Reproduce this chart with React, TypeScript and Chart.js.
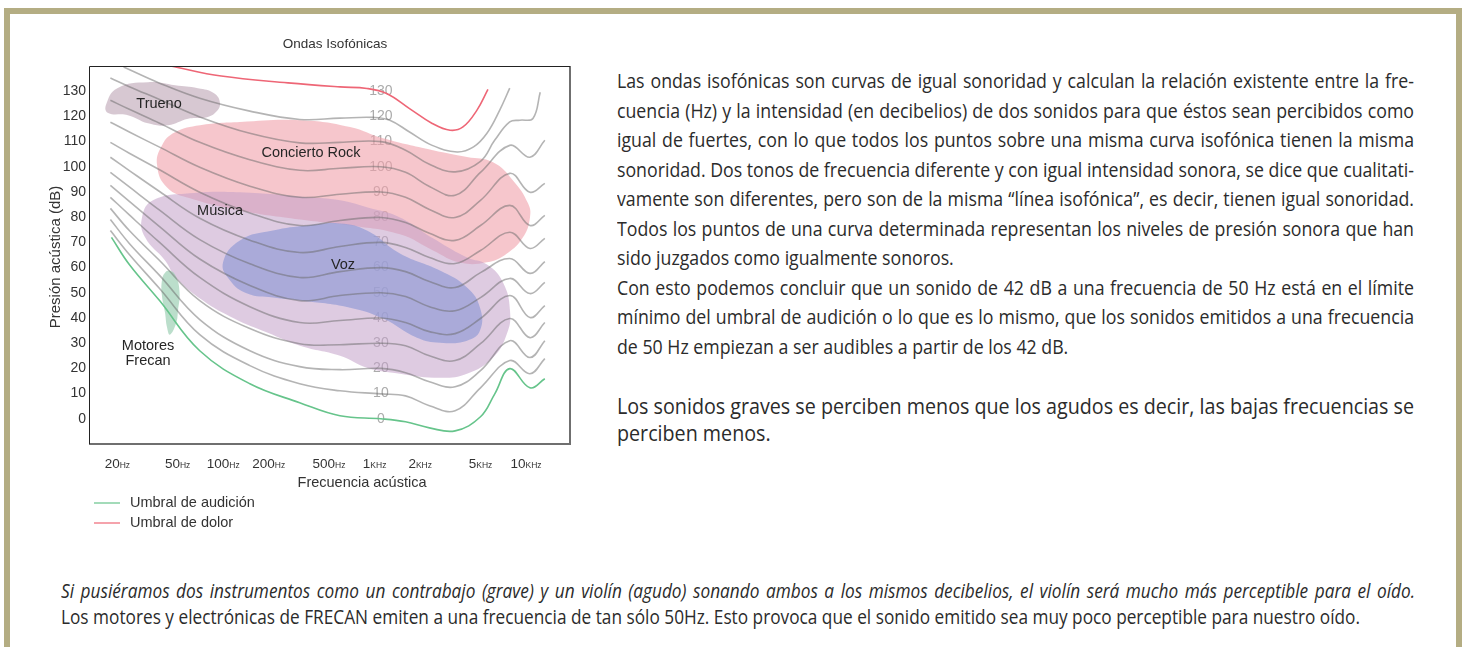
import React, { useEffect, useLayoutEffect, useRef } from "react";
import { Chart, registerables } from "chart.js";

Chart.register(...registerables);

const CHART_FONT = '"Liberation Sans", Arial, Helvetica, sans-serif';
const TEXT_FONT = '"Open Sans", "Noto Sans", sans-serif';

// ---------- texts ----------
const CHART_TITLE = "Ondas Isofónicas";
const X_TITLE = "Frecuencia acústica";
const Y_TITLE = "Presión acústica (dB)";

// ---------- axes ----------
const X_MIN_HZ = 13;
const X_MAX_HZ = 19500;
const Y_MIN_DB = -10;
const Y_MAX_DB = 140;
const Y_TICKS = [0, 10, 20, 30, 40, 50, 60, 70, 80, 90, 100, 110, 120, 130];
const X_TICK_HZ = [20, 50, 100, 200, 500, 1000, 2000, 5000, 10000];
const X_TICK_NUM = ["20", "50", "100", "200", "500", "1", "2", "5", "10"];
const X_TICK_UNIT = ["Hz", "Hz", "Hz", "Hz", "Hz", "KHz", "KHz", "KHz", "KHz"];

const LEVEL_LABELS = [0, 10, 20, 30, 40, 50, 60, 70, 80, 90, 100, 110, 120, 130];
const LEVEL_LABEL_HZ = 1100;

// ---------- curves (Hz / dB) ----------
const THRESHOLD_LABEL = "Umbral de audición";
const THRESHOLD_HZ = [18.3, 24, 38, 70, 150, 320, 590, 1100, 1600, 2300, 3400, 5000, 6200, 7800, 10600, 13300];
const THRESHOLD_DB = [72.0, 61.2, 46.9, 27.0, 13.9, 6.4, 1.2, 0, -1.2, -3.6, -4.8, 0.8, 9.8, 19.9, 12.3, 15.9];

const CONTOUR_HZ = [18, 24, 38, 70, 150, 320, 590, 1100, 1600, 2300, 3400, 5000, 7800, 10600, 13300];
const PHON_10_DB = [74.7, 65.2, 51.7, 33.4, 21.1, 13.9, 11.1, 9.9, 9.1, 5.2, 3.2, 12.3, 23.1, 17.9, 23.9];
const PHON_20_DB = [79.1, 69.6, 56.9, 39.4, 27.0, 20.7, 19.5, 20.0, 18.3, 14.7, 12.7, 19.1, 31.0, 24.3, 31.0];
const PHON_30_DB = [83.5, 74.7, 62.8, 46.9, 35.8, 29.8, 29.4, 30.0, 29.0, 25.0, 23.1, 29.8, 39.8, 32.2, 38.2];
const PHON_40_DB = [87.9, 80.9, 70.0, 56.1, 44.5, 38.2, 39.0, 40.0, 38.2, 34.6, 33.8, 39.8, 48.9, 40.2, 44.9];
const PHON_50_DB = [92.6, 86.3, 76.3, 63.4, 52.9, 46.9, 48.9, 50.0, 48.5, 44.5, 42.9, 48.1, 55.7, 49.7, 54.1];
const PHON_60_DB = [97.8, 92.0, 82.8, 71.1, 61.5, 56.1, 58.4, 60.0, 58.4, 54.5, 52.1, 58.0, 63.6, 57.7, 62.4];
const PHON_70_DB = [103.8, 98.5, 90.2, 79.6, 70.9, 66.0, 68.4, 70.0, 68.0, 64.0, 61.6, 66.8, 74.0, 67.6, 71.6];
const PHON_80_DB = [109.7, 105.4, 98.8, 89.9, 81.7, 76.7, 78.7, 79.9, 77.9, 73.6, 70.8, 76.7, 84.7, 76.7, 80.7];
const PHON_90_DB = [117.7, 113.8, 107.8, 99.8, 92.3, 87.9, 89.1, 90.0, 87.9, 83.1, 79.9, 86.7, 97.4, 89.9, 93.4];
const PHON_100_DB = [126.4, 122.8, 117.3, 109.7, 102.8, 98.6, 99.4, 100.0, 97.8, 92.2, 88.7, 97.8, 108.5, 103.8, 110.5];
const PHON_110_HZ = [18, 24, 38, 70, 150, 320, 590, 1100, 1600, 2300, 3400, 5000, 6200, 7800, 9100, 11100, 12400];
const PHON_110_DB = [135.2, 131.8, 126.7, 119.8, 113.3, 109.5, 109.7, 110.0, 106.6, 101.0, 98.0, 102.2, 110.5, 117.8, 118.5, 119.2, 129.6];
const PHON_120_HZ = [22, 38, 70, 150, 320, 590, 980, 1260, 1700, 2400, 3500, 4500, 5500, 6700, 7800];
const PHON_120_DB = [139.6, 133.2, 127.2, 122.1, 118.8, 119.3, 119.6, 118.5, 113.8, 108.5, 105.9, 107.9, 113.2, 122.5, 131.2];

const PAIN_LABEL = "Umbral de dolor";
const PAIN_HZ = [45, 97, 268, 590, 890, 1200, 1700, 2400, 3150, 3830, 4740, 5600];
const PAIN_DB = [140.0, 136.0, 133.3, 131.7, 131.1, 129.1, 123.1, 117.2, 114.5, 115.8, 122.5, 130.7];

// ---------- regions (closed outlines, Hz / dB) ----------
const TRUENO_HZ = [16.8, 20, 31.9, 48.1, 68.2, 87.0, 95.3, 89.6, 78.2, 58.6, 43.2, 31.9, 23.5, 17.4];
const TRUENO_DB = [124.4, 131.2, 133.6, 132.4, 131.2, 129.2, 125.2, 121.7, 119.7, 119.1, 116.5, 117.3, 120.5, 121.3];
const ROCK_HZ = [36.6, 39.4, 48.1, 70.3, 129, 322, 688, 1136, 2429, 4073, 6048, 8196, 10296, 10612, 9541, 7480, 5520, 3661, 2429, 1470, 688, 322, 129, 60.4, 42.6];
const ROCK_DB = [100.6, 108.5, 113.7, 116.5, 117.8, 118.5, 115.8, 111.3, 106.6, 103.9, 101.8, 94.6, 85.5, 79.9, 72.0, 65.6, 62.1, 62.0, 66.8, 73.2, 76.7, 79.1, 82.7, 87.5, 91.8];
const MUSICA_HZ = [29.1, 34.4, 60.4, 129, 358, 591, 890, 1470, 2429, 4073, 5520, 7041, 7831, 7480, 6048, 4073, 2701, 1470, 890, 591, 322, 195, 118, 73.5, 48.8, 41.3, 30.5];
const MUSICA_DB = [79.9, 86.7, 89.5, 89.9, 87.9, 86.7, 83.9, 79.9, 71.6, 64.0, 61.2, 54.1, 42.9, 33.8, 24.3, 17.9, 16.3, 17.9, 20.3, 25.0, 29.0, 34.2, 39.8, 46.9, 56.1, 62.8, 72.0];
const VOZ_HZ = [99.7, 129, 213, 358, 591, 890, 1470, 2701, 4073, 4963, 4963, 4073, 2701, 1904, 1136, 688, 322, 213, 144, 111];
const VOZ_DB = [62.0, 70.8, 74.7, 76.7, 77.5, 74.7, 65.6, 58.8, 52.1, 44.1, 35.0, 31.0, 30.2, 32.2, 39.8, 44.1, 46.9, 48.1, 49.7, 54.9];
const MOTORES_HZ = [44.5, 48.8, 51.5, 50.3, 48.8, 44.5, 42.6, 41.3, 39.4, 39.4, 41.3];
const MOTORES_DB = [58.8, 56.5, 50.1, 42.9, 37.8, 33.4, 36.2, 42.1, 48.9, 54.9, 58.0];

const REGION_LABELS = ["Trueno", "Concierto Rock", "Música", "Voz", "Motores", "Frecan"];
const REGION_LABEL_HZ = [37.7, 380, 95.3, 618, 31.9, 31.9];
const REGION_LABEL_DB = [124.8, 105.6, 82.3, 61.2, 29.0, 23.1];

// ---------- page texts ----------
const P1_LINES = [
  "Las ondas isofónicas son curvas de igual sonoridad y calculan la relación existente entre la fre-",
  "cuencia (Hz) y la intensidad (en decibelios) de dos sonidos para que éstos sean percibidos como",
  "igual de fuertes, con lo que todos los puntos sobre una misma curva isofónica tienen la misma",
  "sonoridad. Dos tonos de frecuencia diferente y con igual intensidad sonora, se dice que cualitati-",
  "vamente son diferentes, pero son de la misma “línea isofónica”, es decir, tienen igual sonoridad.",
  "Todos los puntos de una curva determinada representan los niveles de presión sonora que han",
  "sido juzgados como igualmente sonoros.",
  "Con esto podemos concluir que un sonido de 42 dB a una frecuencia de 50 Hz está en el límite",
  "mínimo del umbral de audición o lo que es lo mismo, que los sonidos emitidos a una frecuencia",
  "de 50 Hz empiezan a ser audibles a partir de los 42 dB.",
];
const P1_JUSTIFY = [true, true, true, true, true, true, false, true, true, false];
const P2_LINES = [
  "Los sonidos graves se perciben menos que los agudos es decir, las bajas frecuencias se",
  "perciben menos.",
];
const P2_JUSTIFY = [true, false];
const NOTE_LINES = [
  "Si pusiéramos dos instrumentos como un contrabajo (grave) y un violín (agudo) sonando ambos a los mismos decibelios, el violín será mucho más perceptible para el oído.",
  "Los motores y electrónicas de FRECAN emiten a una frecuencia de tan sólo 50Hz. Esto provoca que el sonido emitido sea muy poco perceptible para nuestro oído.",
];
const NOTE_WIDTHS = [1354, 1299];
const NOTE_ITALIC = [true, false];

// ---------- helpers ----------
const toPoints = (xs: number[], ys: number[]) => xs.map((x, i) => ({ x, y: ys[i] }));
const closedPoints = (xs: number[], ys: number[]) => {
  const p = toPoints(xs, ys);
  return [p[p.length - 1], ...p, p[0], p[1]];
};

const GRAY = "rgba(105,105,105,0.5)";
const GREEN = "#66c48b";
const RED = "#ee6676";

function curve(label: string, xs: number[], ys: number[], color: string, order: number, width = 1.6) {
  return {
    label,
    data: toPoints(xs, ys),
    borderColor: color,
    backgroundColor: color,
    borderWidth: width,
    pointRadius: 0,
    fill: false,
    tension: 0.4,
    order,
  };
}

function region(label: string, xs: number[], ys: number[], color: string, order: number) {
  return {
    label,
    data: closedPoints(xs, ys),
    borderColor: "rgba(0,0,0,0)",
    backgroundColor: color,
    borderWidth: 0,
    pointRadius: 0,
    fill: "shape",
    tension: 0.45,
    order,
  };
}

const decorPlugin = {
  id: "decor",
  beforeDatasetsDraw(chart: any) {
    const { ctx, scales } = chart;
    const x = scales.x;
    const y = scales.y;
    ctx.save();
    ctx.fillStyle = "#ababab";
    ctx.font = `14px ${CHART_FONT}`;
    ctx.textAlign = "center";
    ctx.textBaseline = "middle";
    LEVEL_LABELS.forEach((v) => {
      ctx.fillText(String(v), x.getPixelForValue(LEVEL_LABEL_HZ), y.getPixelForValue(v));
    });
    ctx.restore();
  },
  afterDatasetsDraw(chart: any) {
    const { ctx, chartArea, scales } = chart;
    const { left, right, top, bottom } = chartArea;
    const x = scales.x;
    const y = scales.y;
    ctx.save();

    // plot frame
    ctx.strokeStyle = "#6f6f6f";
    ctx.lineWidth = 2;
    ctx.beginPath();
    ctx.moveTo(right, top);
    ctx.lineTo(right, bottom);
    ctx.lineTo(left, bottom);
    ctx.stroke();
    ctx.strokeStyle = "#222";
    ctx.lineWidth = 1;
    ctx.beginPath();
    ctx.moveTo(left + 0.5, bottom);
    ctx.lineTo(left + 0.5, top + 0.5);
    ctx.lineTo(right, top + 0.5);
    ctx.stroke();

    // region labels
    ctx.fillStyle = "#262626";
    ctx.font = `14.5px ${CHART_FONT}`;
    ctx.textAlign = "center";
    ctx.textBaseline = "middle";
    REGION_LABELS.forEach((t, i) => {
      ctx.fillText(t, x.getPixelForValue(REGION_LABEL_HZ[i]), y.getPixelForValue(REGION_LABEL_DB[i]));
    });

    // x tick labels (number + small unit)
    ctx.fillStyle = "#333";
    ctx.textAlign = "left";
    ctx.textBaseline = "alphabetic";
    const numFont = `13.5px ${CHART_FONT}`;
    const unitFont = `8.5px ${CHART_FONT}`;
    X_TICK_HZ.forEach((hz, i) => {
      const px = x.getPixelForValue(hz);
      ctx.font = numFont;
      const w1 = ctx.measureText(X_TICK_NUM[i]).width;
      ctx.font = unitFont;
      const w2 = ctx.measureText(X_TICK_UNIT[i]).width;
      const start = px - (w1 + w2) / 2;
      ctx.font = numFont;
      ctx.fillText(X_TICK_NUM[i], start, bottom + 24);
      ctx.font = unitFont;
      ctx.fillText(X_TICK_UNIT[i], start + w1, bottom + 24);
    });

    // axis titles
    ctx.fillStyle = "#333";
    ctx.font = `14.5px ${CHART_FONT}`;
    ctx.textAlign = "center";
    ctx.fillText(X_TITLE, left + 273, bottom + 43);
    ctx.save();
    ctx.translate(left - 33, (top + bottom) / 2 + 2);
    ctx.rotate(-Math.PI / 2);
    ctx.font = `15px ${CHART_FONT}`;
    ctx.textBaseline = "middle";
    ctx.fillText(Y_TITLE, 0, 0);
    ctx.restore();

    // chart title
    ctx.font = `13.5px ${CHART_FONT}`;
    ctx.textBaseline = "middle";
    ctx.fillText(CHART_TITLE, left + 246, top - 22);

    // legend
    const items = chart.data.datasets.filter((d: any) => d.showInLegend);
    items.forEach((d: any, i: number) => {
      const ly = bottom + 59 + i * 20;
      ctx.strokeStyle = d.borderColor;
      ctx.lineWidth = 1.2;
      ctx.beginPath();
      ctx.moveTo(left + 5, ly);
      ctx.lineTo(left + 31, ly);
      ctx.stroke();
      ctx.fillStyle = "#333";
      ctx.font = `14.5px ${CHART_FONT}`;
      ctx.textAlign = "left";
      ctx.textBaseline = "middle";
      ctx.fillText(d.label, left + 41, ly);
    });

    ctx.restore();
  },
};

function IsoChart() {
  const ref = useRef<HTMLCanvasElement | null>(null);
  useEffect(() => {
    if (!ref.current) return;
    const threshold: any = curve(THRESHOLD_LABEL, THRESHOLD_HZ, THRESHOLD_DB, GREEN, 1);
    threshold.showInLegend = true;
    const pain: any = curve(PAIN_LABEL, PAIN_HZ, PAIN_DB, RED, 1);
    pain.showInLegend = true;
    const datasets: any[] = [
      threshold,
      pain,
      curve("10 fon", CONTOUR_HZ, PHON_10_DB, GRAY, 2),
      curve("20 fon", CONTOUR_HZ, PHON_20_DB, GRAY, 2),
      curve("30 fon", CONTOUR_HZ, PHON_30_DB, GRAY, 2),
      curve("40 fon", CONTOUR_HZ, PHON_40_DB, GRAY, 2),
      curve("50 fon", CONTOUR_HZ, PHON_50_DB, GRAY, 2),
      curve("60 fon", CONTOUR_HZ, PHON_60_DB, GRAY, 2),
      curve("70 fon", CONTOUR_HZ, PHON_70_DB, GRAY, 2),
      curve("80 fon", CONTOUR_HZ, PHON_80_DB, GRAY, 2),
      curve("90 fon", CONTOUR_HZ, PHON_90_DB, GRAY, 2),
      curve("100 fon", CONTOUR_HZ, PHON_100_DB, GRAY, 2),
      curve("110 fon", PHON_110_HZ, PHON_110_DB, GRAY, 2),
      curve("120 fon", PHON_120_HZ, PHON_120_DB, GRAY, 2),
      region("Motores Frecan", MOTORES_HZ, MOTORES_DB, "rgba(150,205,175,0.65)", 10),
      region("Trueno", TRUENO_HZ, TRUENO_DB, "rgba(175,145,165,0.5)", 11),
      region("Voz", VOZ_HZ, VOZ_DB, "rgba(150,158,215,0.72)", 12),
      region("Música", MUSICA_HZ, MUSICA_DB, "rgba(195,160,200,0.55)", 13),
      region("Concierto Rock", ROCK_HZ, ROCK_DB, "rgba(240,160,170,0.6)", 14),
    ];
    const chart = new Chart(ref.current, {
      type: "line",
      data: { datasets },
      options: {
        animation: false,
        responsive: false,
        devicePixelRatio: 1,
        layout: { padding: { top: 36, right: 30, left: 0, bottom: 0 } },
        plugins: {
          legend: { display: false },
          tooltip: { enabled: false },
          title: { display: false },
        },
        scales: {
          x: {
            type: "logarithmic",
            min: X_MIN_HZ,
            max: X_MAX_HZ,
            afterFit: (s: any) => {
              s.height = 96;
            },
            ticks: { display: false },
            grid: { display: false, drawTicks: false },
            border: { display: false },
          },
          y: {
            type: "linear",
            min: Y_MIN_DB,
            max: Y_MAX_DB,
            afterFit: (s: any) => {
              s.width = 59;
            },
            afterBuildTicks: (s: any) => {
              s.ticks = Y_TICKS.map((v) => ({ value: v }));
            },
            ticks: { color: "#333", padding: 3, font: { family: CHART_FONT, size: 14 } },
            grid: { display: false, drawTicks: false },
            border: { display: false },
          },
        },
      } as any,
      plugins: [decorPlugin],
    });
    return () => chart.destroy();
  }, []);
  return <canvas ref={ref} width={570} height={510} style={{ position: "absolute", left: 30, top: 30 }} />;
}

// Text block: lines are condensed horizontally with one common factor, and
// justified lines are filled to their target width with word spacing.
function FitBlock(props: {
  lines: string[];
  justify: boolean[];
  widths: number[];
  italic: boolean[];
  fontSize: number;
  lineHeight: number;
  left: number;
  top: number;
}) {
  const { lines, justify, widths, italic, fontSize, lineHeight, left, top } = props;
  const refs = useRef<(HTMLSpanElement | null)[]>([]);
  useLayoutEffect(() => {
    const els = refs.current;
    els.forEach((el) => {
      if (el) {
        el.style.wordSpacing = "0px";
        el.style.transform = "none";
      }
    });
    const nat = els.map((el) => (el ? el.getBoundingClientRect().width : 1));
    let k = Infinity;
    lines.forEach((_, i) => {
      if (justify[i]) k = Math.min(k, widths[i] / nat[i]);
    });
    if (!isFinite(k)) k = 1;
    els.forEach((el, i) => {
      if (!el) return;
      if (justify[i]) {
        const spaces = (lines[i].match(/ /g) || []).length;
        const extra = widths[i] / k - nat[i];
        el.style.wordSpacing = `${spaces ? extra / spaces : 0}px`;
      }
      el.style.transform = `scaleX(${k})`;
    });
  }, []);
  return (
    <div style={{ position: "absolute", left, top, fontFamily: TEXT_FONT, fontSize, lineHeight: `${lineHeight}px`, color: "#2b2b2b" }}>
      {lines.map((t, i) => (
        <div key={i} style={{ height: lineHeight, whiteSpace: "nowrap" }}>
          <span
            ref={(el) => {
              refs.current[i] = el;
            }}
            style={{ display: "inline-block", whiteSpace: "nowrap", transformOrigin: "0 50%", fontStyle: italic[i] ? "italic" : "normal" }}
          >
            {t}
          </span>
        </div>
      ))}
    </div>
  );
}

export default function App() {
  return (
    <div style={{ position: "absolute", left: 0, top: 0, width: 1464, height: 647, overflow: "hidden", background: "#fff" }}>
      <div
        style={{
          position: "absolute",
          left: 4,
          top: 8,
          width: 1458,
          height: 700,
          boxSizing: "border-box",
          borderTop: "6px solid #b4ad83",
          borderLeft: "6px solid #b4ad83",
          borderRight: "6px solid #b4ad83",
        }}
      />
      <IsoChart />
      <FitBlock
        lines={P1_LINES}
        justify={P1_JUSTIFY}
        widths={P1_LINES.map(() => 797)}
        italic={P1_LINES.map(() => false)}
        fontSize={19.5}
        lineHeight={29.5}
        left={617}
        top={66}
      />
      <FitBlock
        lines={P2_LINES}
        justify={P2_JUSTIFY}
        widths={P2_LINES.map(() => 797)}
        italic={P2_LINES.map(() => false)}
        fontSize={22}
        lineHeight={27}
        left={617}
        top={391.5}
      />
      <FitBlock
        lines={NOTE_LINES}
        justify={[true, true]}
        widths={NOTE_WIDTHS}
        italic={NOTE_ITALIC}
        fontSize={19.5}
        lineHeight={26}
        left={61}
        top={578}
      />
    </div>
  );
}
